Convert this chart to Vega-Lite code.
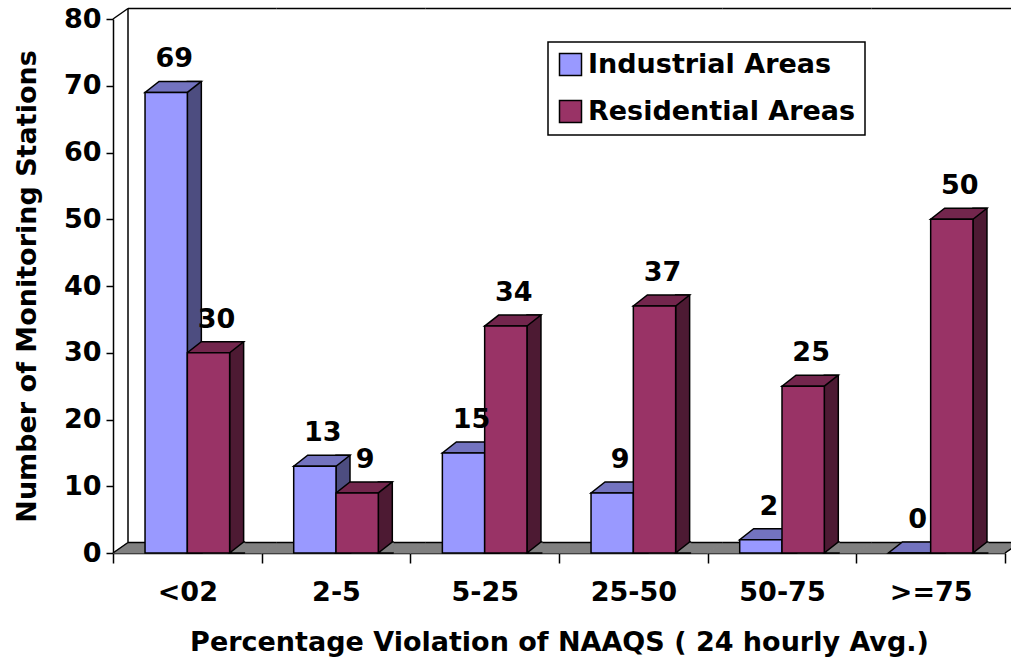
{
  "$schema": "https://vega.github.io/schema/vega-lite/v6.json",
  "width": 892,
  "height": 534,
  "autosize": {"type": "none"},
  "padding": {"left": 113, "top": 19, "right": 6, "bottom": 108},
  "background": "white",
  "config": {
    "view": {"stroke": null},
    "font": "DejaVu Sans",
    "axis": {
      "labelFont": "DejaVu Sans", "labelFontSize": 27, "labelFontWeight": "bold", "labelColor": "black",
      "titleFont": "DejaVu Sans", "titleFontSize": 27, "titleFontWeight": "bold", "titleColor": "black",
      "domainColor": "black", "domainWidth": 1.5, "tickColor": "black", "tickWidth": 1.5,
      "grid": false, "zindex": 1
    },
    "axisX": {"tickSize": 10, "tickBand": "extent", "labelPadding": 16, "titlePadding": 24, "labelAngle": 0},
    "axisY": {"tickSize": 7, "labelPadding": 5, "titlePadding": 22},
    "legend": {
      "orient": "none", "legendX": 435, "legendY": 23, "title": null,
      "symbolType": "square", "symbolSize": 484, "symbolStrokeColor": "black", "symbolStrokeWidth": 1.5, "symbolOpacity": 1,
      "labelFont": "DejaVu Sans", "labelFontSize": 27, "labelFontWeight": "bold", "labelColor": "black", "labelLimit": 0,
      "labelOffset": 4, "padding": 9, "rowPadding": 18,
      "strokeColor": "black", "strokeWidth": 1.5, "fillColor": "white"
    }
  },
  "data": {
    "values": [
      {"cat": "<02", "series": "Industrial Areas", "value": 69},
      {"cat": "<02", "series": "Residential Areas", "value": 30},
      {"cat": "2-5", "series": "Industrial Areas", "value": 13},
      {"cat": "2-5", "series": "Residential Areas", "value": 9},
      {"cat": "5-25", "series": "Industrial Areas", "value": 15},
      {"cat": "5-25", "series": "Residential Areas", "value": 34},
      {"cat": "25-50", "series": "Industrial Areas", "value": 9},
      {"cat": "25-50", "series": "Residential Areas", "value": 37},
      {"cat": "50-75", "series": "Industrial Areas", "value": 2},
      {"cat": "50-75", "series": "Residential Areas", "value": 25},
      {"cat": ">=75", "series": "Industrial Areas", "value": 0},
      {"cat": ">=75", "series": "Residential Areas", "value": 50}
    ]
  },
  "layer": [
    {
      "transform": [{"filter": "datum.series === 'Industrial Areas'"}],
      "mark": {"type": "point", "shape": "M-74.33,0L74.33,0L89.33,-10.5L-59.33,-10.5Z", "size": 4, "filled": true, "fill": "#808080", "stroke": "#808080", "strokeWidth": 1, "opacity": 1},
      "encoding": {
        "x": {"field": "cat", "type": "nominal", "title": "Percentage Violation of NAAQS ( 24 hourly Avg.)", "scale": {"domain": ["<02", "2-5", "5-25", "25-50", "50-75", ">=75"], "paddingInner": 0, "paddingOuter": 0}},
        "y": {"datum": 0, "type": "quantitative", "scale": {"domain": [0, 80], "nice": false}}
      }
    },
    {
      "transform": [{"filter": "datum.series === 'Industrial Areas'"}],
      "mark": {"type": "point", "shape": "M-59.33,-10.5L89.33,-10.5", "size": 4, "filled": false, "stroke": "black", "strokeWidth": 1.5, "opacity": 1},
      "encoding": {
        "x": {"field": "cat", "type": "nominal", "title": "Percentage Violation of NAAQS ( 24 hourly Avg.)", "scale": {"domain": ["<02", "2-5", "5-25", "25-50", "50-75", ">=75"], "paddingInner": 0, "paddingOuter": 0}},
        "y": {"datum": 0, "type": "quantitative", "scale": {"domain": [0, 80], "nice": false}}
      }
    },
    {
      "transform": [{"filter": "datum.series === 'Industrial Areas'"}],
      "mark": {"type": "point", "shape": "M-59.33,-10.5L89.33,-10.5", "size": 4, "filled": false, "stroke": "black", "strokeWidth": 1.5, "opacity": 1},
      "encoding": {
        "x": {"field": "cat", "type": "nominal", "title": "Percentage Violation of NAAQS ( 24 hourly Avg.)", "scale": {"domain": ["<02", "2-5", "5-25", "25-50", "50-75", ">=75"], "paddingInner": 0, "paddingOuter": 0}},
        "y": {"datum": 80, "type": "quantitative", "scale": {"domain": [0, 80], "nice": false}}
      }
    },
    {
      "transform": [{"filter": "datum.series === 'Industrial Areas' && datum.cat === '<02'"}],
      "mark": {"type": "rule", "xOffset": -59.33, "yOffset": -10.5, "y2Offset": -10.5, "color": "black", "strokeWidth": 1.5},
      "encoding": {
        "x": {"datum": "<02", "type": "nominal", "scale": {"domain": ["<02", "2-5", "5-25", "25-50", "50-75", ">=75"], "paddingInner": 0, "paddingOuter": 0}},
        "y": {"datum": 80, "type": "quantitative", "scale": {"domain": [0, 80], "nice": false}},
        "y2": {"datum": 0}
      }
    },
    {
      "transform": [{"filter": "datum.series === 'Industrial Areas' && datum.cat === '<02'"}],
      "mark": {"type": "point", "shape": "M-74.33,0L-59.33,-10.5", "size": 4, "filled": false, "stroke": "black", "strokeWidth": 1.5, "opacity": 1},
      "encoding": {
        "x": {"datum": "<02", "type": "nominal", "scale": {"domain": ["<02", "2-5", "5-25", "25-50", "50-75", ">=75"], "paddingInner": 0, "paddingOuter": 0}},
        "y": {"datum": 80, "type": "quantitative", "scale": {"domain": [0, 80], "nice": false}}
      }
    },
    {
      "transform": [{"filter": "datum.series === 'Industrial Areas' && datum.cat === '<02'"}],
      "mark": {"type": "point", "shape": "M-74.33,0L-59.33,-10.5", "size": 4, "filled": false, "stroke": "black", "strokeWidth": 1.5, "opacity": 1},
      "encoding": {
        "x": {"datum": "<02", "type": "nominal", "scale": {"domain": ["<02", "2-5", "5-25", "25-50", "50-75", ">=75"], "paddingInner": 0, "paddingOuter": 0}},
        "y": {"datum": 0, "type": "quantitative", "scale": {"domain": [0, 80], "nice": false}}
      }
    },
    {
      "transform": [{"filter": "datum.series === 'Industrial Areas' && datum.cat === '>=75'"}],
      "mark": {"type": "point", "shape": "M74.33,0L89.33,-10.5", "size": 4, "filled": false, "stroke": "black", "strokeWidth": 1.5, "opacity": 1},
      "encoding": {
        "x": {"datum": ">=75", "type": "nominal", "scale": {"domain": ["<02", "2-5", "5-25", "25-50", "50-75", ">=75"], "paddingInner": 0, "paddingOuter": 0}},
        "y": {"datum": 0, "type": "quantitative", "scale": {"domain": [0, 80], "nice": false}}
      }
    },
    {
      "transform": [{"filter": "datum.series === 'Industrial Areas'"}],
      "mark": {"type": "bar", "width": 14, "xOffset": 7, "yOffset": -11, "fill": "#4D4D80", "stroke": "black", "strokeWidth": 1.5},
      "encoding": {
        "x": {"field": "cat", "type": "nominal", "title": "Percentage Violation of NAAQS ( 24 hourly Avg.)", "scale": {"domain": ["<02", "2-5", "5-25", "25-50", "50-75", ">=75"], "paddingInner": 0, "paddingOuter": 0}},
        "y": {"field": "value", "type": "quantitative", "title": "Number of Monitoring Stations", "stack": null, "scale": {"domain": [0, 80], "nice": false}, "axis": {"values": [0, 10, 20, 30, 40, 50, 60, 70, 80]}}
      }
    },
    {
      "transform": [{"filter": "datum.series === 'Residential Areas'"}],
      "mark": {"type": "bar", "width": 14, "xOffset": 49.3, "yOffset": -11, "fill": "#4D1A33", "stroke": "black", "strokeWidth": 1.5},
      "encoding": {
        "x": {"field": "cat", "type": "nominal", "title": "Percentage Violation of NAAQS ( 24 hourly Avg.)", "scale": {"domain": ["<02", "2-5", "5-25", "25-50", "50-75", ">=75"], "paddingInner": 0, "paddingOuter": 0}},
        "y": {"field": "value", "type": "quantitative", "title": "Number of Monitoring Stations", "stack": null, "scale": {"domain": [0, 80], "nice": false}, "axis": {"values": [0, 10, 20, 30, 40, 50, 60, 70, 80]}}
      }
    },
    {
      "mark": {"type": "point", "shape": "M36.65,0L21.15,0L35.15,-11L36.65,-11", "size": 4, "filled": true, "fill": "#808080", "stroke": "black", "strokeWidth": 1.5, "opacity": 1},
      "encoding": {
        "x": {"field": "cat", "type": "nominal", "title": "Percentage Violation of NAAQS ( 24 hourly Avg.)", "scale": {"domain": ["<02", "2-5", "5-25", "25-50", "50-75", ">=75"], "paddingInner": 0, "paddingOuter": 0}},
        "xOffset": {"field": "series", "type": "nominal", "scale": {"domain": ["Industrial Areas", "Residential Areas"], "paddingInner": 0, "paddingOuter": 0.7573}},
        "y": {"datum": 0, "type": "quantitative", "scale": {"domain": [0, 80], "nice": false}}
      }
    },
    {
      "mark": {"type": "point", "shape": "M-21.15,0L21.15,0L35.15,-11L-7.15,-11Z", "size": 4, "filled": true, "stroke": "black", "strokeWidth": 1.5, "opacity": 1},
      "encoding": {
        "x": {"field": "cat", "type": "nominal", "title": "Percentage Violation of NAAQS ( 24 hourly Avg.)", "scale": {"domain": ["<02", "2-5", "5-25", "25-50", "50-75", ">=75"], "paddingInner": 0, "paddingOuter": 0}},
        "xOffset": {"field": "series", "type": "nominal", "scale": {"domain": ["Industrial Areas", "Residential Areas"], "paddingInner": 0, "paddingOuter": 0.7573}},
        "y": {"field": "value", "type": "quantitative", "title": "Number of Monitoring Stations", "stack": null, "scale": {"domain": [0, 80], "nice": false}, "axis": {"values": [0, 10, 20, 30, 40, 50, 60, 70, 80]}},
        "fill": {"condition": {"test": "datum.series === 'Industrial Areas'", "value": "#7373BF"}, "value": "#73264D"}
      }
    },
    {
      "mark": {"type": "bar", "stroke": "black", "strokeWidth": 1.5},
      "encoding": {
        "x": {"field": "cat", "type": "nominal", "title": "Percentage Violation of NAAQS ( 24 hourly Avg.)", "scale": {"domain": ["<02", "2-5", "5-25", "25-50", "50-75", ">=75"], "paddingInner": 0, "paddingOuter": 0}},
        "xOffset": {"field": "series", "type": "nominal", "scale": {"domain": ["Industrial Areas", "Residential Areas"], "paddingInner": 0, "paddingOuter": 0.7573}},
        "y": {"field": "value", "type": "quantitative", "title": "Number of Monitoring Stations", "stack": null, "scale": {"domain": [0, 80], "nice": false}, "axis": {"values": [0, 10, 20, 30, 40, 50, 60, 70, 80]}},
        "color": {"field": "series", "type": "nominal", "scale": {"domain": ["Industrial Areas", "Residential Areas"], "range": ["#9999FF", "#993366"]}, "legend": {"title": null}}
      }
    },
    {
      "mark": {"type": "text", "dx": 8, "dy": -33, "font": "DejaVu Sans", "fontSize": 27, "fontWeight": "bold", "color": "black", "baseline": "middle", "align": "center"},
      "encoding": {
        "x": {"field": "cat", "type": "nominal", "title": "Percentage Violation of NAAQS ( 24 hourly Avg.)", "scale": {"domain": ["<02", "2-5", "5-25", "25-50", "50-75", ">=75"], "paddingInner": 0, "paddingOuter": 0}},
        "xOffset": {"field": "series", "type": "nominal", "scale": {"domain": ["Industrial Areas", "Residential Areas"], "paddingInner": 0, "paddingOuter": 0.7573}},
        "y": {"field": "value", "type": "quantitative", "title": "Number of Monitoring Stations", "stack": null, "scale": {"domain": [0, 80], "nice": false}, "axis": {"values": [0, 10, 20, 30, 40, 50, 60, 70, 80]}},
        "text": {"field": "value", "type": "quantitative"}
      }
    }
  ]
}
